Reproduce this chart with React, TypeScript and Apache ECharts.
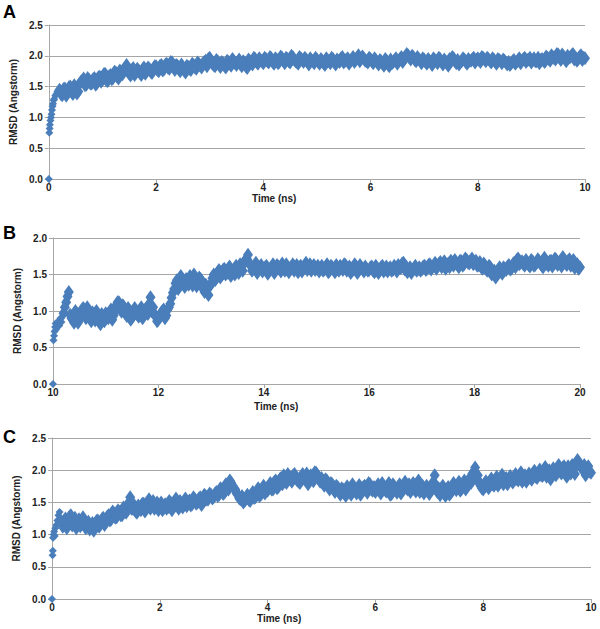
import React, { useEffect, useRef } from "react";
import * as echarts from "echarts";

// ---------- Data (RMSD in Angstrom vs time in ns) ----------
const panelLetters = ["A", "B", "C"];
const yTickMax = [2.5, 2.0, 2.5];
const xRanges = [
  [0, 10],
  [10, 20],
  [0, 10],
];
const sampleStep = 0.05;

// Panel A
const aEarly: [number, number][] = [
  [0, 0], [0.01, 0.75], [0.015, 0.82], [0.02, 0.88], [0.03, 0.95], [0.04, 1.0],
  [0.05, 1.05], [0.06, 1.12], [0.07, 1.18], [0.08, 1.22], [0.09, 1.28], [0.1, 1.3],
  [0.12, 1.35], [0.14, 1.38], [0.16, 1.42], [0.18, 1.4],
];
const aStart = 0.2;
const aVals = [
  1.45, 1.36, 1.47, 1.40, 1.50, 1.38, 1.48, 1.42, 1.58, 1.63, 1.53, 1.61, 1.55, 1.64, 1.56, 1.66,
  1.61, 1.71, 1.59, 1.69, 1.64, 1.73, 1.63, 1.74, 1.78, 1.85, 1.71, 1.77, 1.69, 1.79, 1.72, 1.78, 1.71, 1.81, 1.74, 1.79,
  1.83, 1.75, 1.85, 1.78, 1.87, 1.79, 1.89, 1.77, 1.84, 1.75, 1.81, 1.73, 1.82, 1.77, 1.85, 1.79, 1.87, 1.81, 1.90, 1.83,
  1.97, 1.87, 1.83, 1.91, 1.82, 1.88, 1.81, 1.90, 1.84, 1.92, 1.85, 1.94, 1.83, 1.89, 1.80, 1.91, 1.86, 1.95, 1.87, 1.93,
  1.88, 1.95, 1.89, 1.96, 1.87, 1.94, 1.90, 1.97, 1.88, 1.95, 1.89, 1.98, 1.91, 1.87, 1.96, 1.90, 1.94, 1.86, 1.93, 1.88,
  1.94, 1.87, 1.92, 1.85, 1.93, 1.88, 1.95, 1.86, 1.92, 1.96, 1.89, 1.94, 1.87, 1.95, 1.90, 1.97, 1.91, 1.99, 1.92, 1.89,
  1.95, 1.88, 1.93, 1.86, 1.91, 1.84, 1.92, 1.83, 1.88, 1.93, 1.87, 1.95, 1.90, 1.97, 2.01, 1.94, 1.98, 1.91, 1.95, 1.88,
  1.94, 1.87, 1.92, 1.85, 1.93, 1.88, 1.95, 1.86, 1.91, 1.84, 1.93, 1.96, 1.88, 1.86, 1.91, 1.94, 1.87, 1.92, 1.95, 1.89,
  1.96, 1.90, 1.97, 1.91, 1.95, 1.89, 1.94, 1.87, 1.93, 1.88, 1.92, 1.86, 1.85, 1.91, 1.87, 1.93, 1.88, 1.95, 1.90, 1.94,
  1.89, 1.96, 1.91, 1.88, 1.95, 1.90, 1.97, 1.92, 1.98, 1.94, 2.02, 1.93, 1.99, 1.91, 1.97, 2.01, 1.94, 1.92, 1.99, 1.93, 1.96,
];
// interleaved frames at aStart + 0.025 + i*0.05
const aVals2 = [
  1.38, 1.46, 1.35, 1.49, 1.41, 1.52, 1.39, 1.55, 1.60, 1.52, 1.64, 1.55, 1.62, 1.53, 1.65, 1.58,
  1.70, 1.60, 1.67, 1.62, 1.74, 1.66, 1.76, 1.70, 1.80, 1.76, 1.68, 1.80, 1.73, 1.76, 1.69, 1.81, 1.75, 1.79, 1.72, 1.83,
  1.77, 1.84, 1.76, 1.86, 1.80, 1.90, 1.82, 1.85, 1.78, 1.86, 1.76, 1.84, 1.79, 1.87, 1.81, 1.89, 1.84, 1.88, 1.92, 1.95,
  1.91, 1.85, 1.93, 1.86, 1.90, 1.84, 1.92, 1.87, 1.95, 1.88, 1.90, 1.86, 1.91, 1.83, 1.94, 1.89, 1.97, 1.90, 1.96, 1.91,
  1.97, 1.91, 1.98, 1.90, 1.96, 1.88, 1.99, 1.92, 1.97, 1.91, 2.00, 1.94, 1.90, 1.98, 1.93, 1.97, 1.90, 1.96, 1.91, 1.97,
  1.90, 1.95, 1.88, 1.96, 1.91, 1.97, 1.89, 1.94, 1.90, 1.98, 1.92, 1.96, 1.91, 1.98, 1.93, 2.01, 1.95, 1.96, 1.91, 1.97,
  1.91, 1.96, 1.89, 1.93, 1.87, 1.95, 1.86, 1.94, 1.90, 1.96, 1.92, 1.98, 1.94, 2.03, 1.97, 2.00, 1.93, 1.98, 1.92, 1.96,
  1.90, 1.95, 1.89, 1.96, 1.91, 1.97, 1.90, 1.94, 1.88, 1.95, 1.98, 1.91, 1.93, 1.89, 1.96, 1.90, 1.95, 1.92, 1.97, 1.93,
  1.93, 1.98, 1.94, 1.97, 1.92, 1.96, 1.90, 1.95, 1.91, 1.94, 1.89, 1.90, 1.88, 1.93, 1.90, 1.96, 1.92, 1.97, 1.93, 1.97,
  1.93, 1.91, 1.97, 1.93, 1.92, 1.99, 1.95, 2.01, 1.96, 2.03, 1.97, 2.02, 1.95, 2.00, 1.98, 2.03, 1.97, 1.95, 2.01, 1.97,
];

// Panel B
const bEarly: [number, number][] = [
  [10, 0], [10.01, 0.6], [10.02, 0.66], [10.03, 0.72], [10.04, 0.78], [10.05, 0.83],
  [10.06, 0.75], [10.08, 0.82], [10.1, 0.86], [10.12, 0.8], [10.14, 0.9], [10.16, 0.85],
];
const bStart = 10.2;
const bVals = [
  0.97, 1.12, 1.26, 0.9, 0.84, 0.96, 0.88, 1.02, 0.93, 1.05, 0.92, 0.98, 0.87, 0.95, 0.82, 0.91,
  0.97, 0.9, 1.02, 0.94, 1.08, 1.12, 0.99, 1.05, 0.93, 1.01, 0.91, 1.04, 0.95, 0.99, 0.9, 1.02, 0.96, 1.19, 1.05, 0.92,
  0.88, 0.97, 1.02, 0.94, 1.05, 1.18, 1.3, 1.42, 1.36, 1.45, 1.33, 1.4, 1.48, 1.35, 1.43, 1.38, 1.44, 1.3, 1.36, 1.22,
  1.38, 1.5, 1.45, 1.56, 1.49, 1.58, 1.52, 1.61, 1.55, 1.5, 1.59, 1.64, 1.55, 1.7, 1.77, 1.62, 1.58, 1.66, 1.56, 1.63,
  1.57, 1.62, 1.54, 1.6, 1.52, 1.63, 1.58, 1.65, 1.55, 1.61, 1.57, 1.64, 1.59, 1.53, 1.62, 1.58, 1.66, 1.6, 1.55, 1.63,
  1.59, 1.54, 1.62, 1.57, 1.64, 1.55, 1.6, 1.53, 1.58, 1.62, 1.56, 1.63, 1.59, 1.52, 1.57, 1.61, 1.55, 1.6, 1.54, 1.58,
  1.56, 1.61, 1.53, 1.59, 1.55, 1.62, 1.57, 1.54, 1.6, 1.56, 1.58, 1.63, 1.59, 1.66, 1.61, 1.56, 1.52, 1.58, 1.55, 1.6,
  1.57, 1.62, 1.58, 1.64, 1.6, 1.66, 1.61, 1.67, 1.63, 1.58, 1.65, 1.69, 1.62, 1.66, 1.6, 1.68, 1.64, 1.7, 1.65, 1.72,
  1.66, 1.62, 1.67, 1.58, 1.62, 1.55, 1.6, 1.52, 1.46, 1.57, 1.54, 1.6, 1.56, 1.63, 1.58, 1.66, 1.7, 1.64, 1.68, 1.62,
  1.66, 1.61, 1.68, 1.63, 1.71, 1.65, 1.6, 1.67, 1.62, 1.69, 1.64, 1.7, 1.66, 1.61, 1.68, 1.63, 1.71, 1.66, 1.59, 1.64, 1.6,
];
const bVals2 = [
  1.05, 1.20, 0.95, 0.88, 1.00, 0.84, 0.97, 1.04, 0.90, 1.00, 0.86, 0.94, 1.00, 0.88, 0.96, 0.86,
  0.94, 0.99, 0.88, 1.00, 1.12, 1.03, 1.08, 0.97, 1.04, 0.88, 0.98, 1.00, 0.92, 1.05, 0.94, 0.98, 1.10, 1.00, 0.96, 0.86,
  0.93, 1.00, 0.90, 1.02, 1.10, 1.25, 1.38, 1.30, 1.48, 1.38, 1.44, 1.36, 1.42, 1.50, 1.34, 1.46, 1.36, 1.26, 1.30, 1.34,
  1.45, 1.42, 1.53, 1.46, 1.56, 1.50, 1.58, 1.48, 1.55, 1.62, 1.52, 1.60, 1.66, 1.72, 1.66, 1.55, 1.62, 1.52, 1.60, 1.54,
  1.60, 1.51, 1.58, 1.64, 1.57, 1.61, 1.54, 1.59, 1.64, 1.53, 1.60, 1.55, 1.63, 1.60, 1.54, 1.62, 1.56, 1.64, 1.59, 1.56,
  1.62, 1.58, 1.55, 1.61, 1.53, 1.62, 1.57, 1.63, 1.55, 1.59, 1.64, 1.55, 1.61, 1.56, 1.64, 1.52, 1.63, 1.57, 1.61, 1.55,
  1.60, 1.55, 1.62, 1.52, 1.60, 1.54, 1.61, 1.58, 1.55, 1.62, 1.54, 1.60, 1.65, 1.57, 1.53, 1.60, 1.56, 1.62, 1.57, 1.55,
  1.61, 1.56, 1.63, 1.57, 1.62, 1.58, 1.65, 1.60, 1.68, 1.63, 1.60, 1.66, 1.70, 1.63, 1.69, 1.62, 1.72, 1.66, 1.69, 1.64,
  1.69, 1.63, 1.60, 1.65, 1.56, 1.62, 1.50, 1.55, 1.52, 1.60, 1.51, 1.58, 1.61, 1.57, 1.64, 1.60, 1.72, 1.66, 1.64, 1.70,
  1.63, 1.70, 1.62, 1.66, 1.68, 1.62, 1.73, 1.64, 1.68, 1.61, 1.72, 1.63, 1.68, 1.74, 1.65, 1.69, 1.62, 1.70, 1.64, 1.58,
];

// Panel C
const cEarly: [number, number][] = [
  [0, 0], [0.01, 0.68], [0.015, 0.75], [0.02, 0.95], [0.03, 1.0], [0.04, 1.05], [0.05, 0.98],
  [0.06, 1.1], [0.08, 1.15], [0.1, 1.22], [0.12, 1.3], [0.14, 1.35], [0.16, 1.25], [0.18, 1.18],
];
const cStart = 0.2;
const cVals = [
  1.12, 1.25, 1.15, 1.3, 1.2, 1.1, 1.24, 1.16, 1.22, 1.12, 1.08, 1.18, 1.13, 1.22, 1.17, 1.26,
  1.2, 1.3, 1.24, 1.33, 1.27, 1.35, 1.3, 1.38, 1.43, 1.58, 1.4, 1.36, 1.45, 1.38, 1.48, 1.42, 1.55, 1.46, 1.4, 1.5,
  1.44, 1.38, 1.47, 1.42, 1.5, 1.45, 1.56, 1.4, 1.48, 1.52, 1.44, 1.53, 1.47, 1.55, 1.5, 1.58, 1.52, 1.6, 1.55, 1.62,
  1.58, 1.66, 1.62, 1.7, 1.65, 1.74, 1.84, 1.76, 1.7, 1.62, 1.55, 1.5, 1.58, 1.54, 1.62, 1.57, 1.66, 1.6, 1.7, 1.64,
  1.68, 1.80, 1.70, 1.84, 1.74, 1.88, 1.92, 1.80, 1.90, 1.82, 1.94, 1.84, 1.80, 1.94, 1.85, 1.78, 1.92, 1.83, 1.96, 1.86,
  1.88, 1.76, 1.84, 1.70, 1.78, 1.66, 1.74, 1.62, 1.70, 1.60, 1.70, 1.62, 1.74, 1.64, 1.77, 1.67, 1.76, 1.65, 1.78, 1.68,
  1.66, 1.78, 1.64, 1.76, 1.67, 1.80, 1.63, 1.75, 1.65, 1.78, 1.68, 1.82, 1.70, 1.66, 1.80, 1.67, 1.84, 1.72, 1.64, 1.76,
  1.63, 1.77, 1.92, 1.66, 1.61, 1.76, 1.60, 1.74, 1.65, 1.80, 1.69, 1.82, 1.71, 1.84, 1.75, 1.88, 1.95, 2.04, 1.92, 1.76,
  1.70, 1.83, 1.72, 1.87, 1.76, 1.90, 1.80, 1.93, 1.83, 1.78, 1.91, 1.81, 1.94, 1.84, 1.97, 1.87, 1.82, 1.95, 1.85, 1.99,
  1.88, 2.01, 1.91, 2.05, 1.93, 1.86, 2.03, 1.92, 2.08, 1.95, 2.06, 1.90, 2.02, 2.08, 1.94, 2.16, 2.06, 2.00, 1.92, 2.06, 1.96,
];
const cVals2 = [
  1.22, 1.10, 1.28, 1.14, 1.26, 1.18, 1.13, 1.27, 1.10, 1.20, 1.15, 1.06, 1.21, 1.12, 1.24, 1.15,
  1.28, 1.22, 1.36, 1.26, 1.38, 1.30, 1.42, 1.34, 1.50, 1.40, 1.46, 1.34, 1.42, 1.48, 1.36, 1.50, 1.40, 1.52, 1.44, 1.38,
  1.50, 1.42, 1.40, 1.52, 1.38, 1.50, 1.46, 1.52, 1.42, 1.56, 1.50, 1.45, 1.58, 1.48, 1.56, 1.46, 1.62, 1.54, 1.64, 1.56,
  1.64, 1.60, 1.72, 1.63, 1.78, 1.70, 1.80, 1.72, 1.64, 1.56, 1.60, 1.52, 1.62, 1.52, 1.66, 1.58, 1.72, 1.62, 1.76, 1.68,
  1.76, 1.70, 1.82, 1.72, 1.86, 1.78, 1.84, 1.94, 1.86, 1.92, 1.88, 1.82, 1.90, 1.88, 1.95, 1.84, 1.87, 1.97, 1.90, 1.82,
  1.80, 1.86, 1.74, 1.80, 1.70, 1.76, 1.66, 1.72, 1.64, 1.75, 1.66, 1.78, 1.68, 1.72, 1.62, 1.74, 1.70, 1.80, 1.70, 1.74,
  1.72, 1.68, 1.80, 1.70, 1.74, 1.62, 1.78, 1.70, 1.74, 1.64, 1.76, 1.72, 1.78, 1.74, 1.70, 1.79, 1.66, 1.76, 1.70, 1.68,
  1.70, 1.82, 1.76, 1.72, 1.68, 1.64, 1.70, 1.62, 1.76, 1.72, 1.76, 1.68, 1.78, 1.70, 1.82, 1.80, 1.98, 1.86, 1.82, 1.72,
  1.78, 1.76, 1.82, 1.78, 1.84, 1.76, 1.88, 1.78, 1.88, 1.86, 1.84, 1.90, 1.86, 1.90, 1.82, 1.92, 1.90, 1.88, 1.92, 1.90,
  1.95, 1.92, 1.98, 1.90, 2.00, 1.96, 1.97, 2.02, 1.99, 2.04, 1.96, 2.06, 1.95, 2.02, 2.10, 2.12, 2.04, 2.08, 2.02, 1.98,
];

const EARLY_SIZE = 8;
const BULK_SIZE: [number, number] = [10, 14];

function buildSeries(early: [number, number][], start: number, vals: number[], vals2: number[]) {
  const pts: any[] = early.map((p) => ({ value: [p[0], p[1]], symbolSize: EARLY_SIZE }));
  vals.forEach((v, i) => pts.push([+(start + i * sampleStep).toFixed(3), v]));
  vals2.forEach((v, i) => pts.push([+(start + sampleStep / 2 + i * sampleStep).toFixed(3), v]));
  return pts;
}

const FONT = "'Liberation Sans', Arial, sans-serif";
const GRID_COLOR = "#a6a6a6";
const MARK_COLOR = "#4a7ebb";

export default function App() {
  const ref = useRef<HTMLDivElement>(null);
  useEffect(() => {
    if (!ref.current) return;
    const chart = echarts.init(ref.current, undefined, { renderer: "svg" });
    const grids = [
      { left: 47, right: 15, top: 25, height: 154 },
      { left: 53, right: 20, top: 238, height: 146 },
      { left: 52, right: 9, top: 438, height: 161 },
    ];
    const datasets = [
      buildSeries(aEarly, aStart, aVals, aVals2),
      buildSeries(bEarly, bStart, bVals, bVals2),
      buildSeries(cEarly, cStart, cVals, cVals2),
    ];
    const axisLabelStyle = { fontFamily: FONT, fontWeight: "bold" as const, fontSize: 10, color: "#222" };
    const option: any = {
      animation: false,
      backgroundColor: "#fff",
      grid: grids.map((g) => ({ ...g, containLabel: false })),
      xAxis: grids.map((_, i) => ({
        type: "value",
        gridIndex: i,
        min: xRanges[i][0],
        max: xRanges[i][1],
        interval: 2,
        axisLine: { show: true, onZero: false, lineStyle: { color: GRID_COLOR, width: 1 } },
        axisTick: { show: true, length: 4, lineStyle: { color: GRID_COLOR } },
        splitLine: { show: false },
        axisLabel: { ...axisLabelStyle, margin: 3 },
      })),
      yAxis: grids.map((_, i) => ({
        type: "value",
        gridIndex: i,
        min: 0,
        max: yTickMax[i],
        interval: 0.5,
        name: "RMSD (Angstorm)",
        nameLocation: "middle",
        nameGap: [24, 26, 26][i],
        nameTextStyle: { fontFamily: FONT, fontWeight: "bold", fontSize: 10, color: "#222" },
        axisLine: { show: true, lineStyle: { color: GRID_COLOR, width: 1 } },
        axisTick: { show: true, length: 4, lineStyle: { color: GRID_COLOR } },
        splitLine: { show: true, lineStyle: { color: GRID_COLOR, width: 1 } },
        axisLabel: { ...axisLabelStyle, margin: 6, formatter: (v: number) => v.toFixed(1) },
      })),
      series: datasets.map((d, i) => ({
        type: "scatter",
        xAxisIndex: i,
        yAxisIndex: i,
        data: d,
        symbol: "diamond",
        symbolSize: BULK_SIZE,
        itemStyle: { color: MARK_COLOR, opacity: 1 },
        silent: true,
      })),
      graphic: [
        ...panelLetters.map((t, i) => ({
          type: "text",
          left: 3,
          top: [3, 224, 428][i],
          style: { text: t, font: `bold 18px ${FONT}`, fill: "#000" },
        })),
        ...[197, 405, 617].map((y, i) => ({
          type: "text",
          left: [252, 254, 257][i],
          top: y - 4,
          style: { text: "Time (ns)", font: `bold 10px ${FONT}`, fill: "#222" },
        })),
      ],
    };
    chart.setOption(option);
    return () => chart.dispose();
  }, []);
  return (
    <div
      ref={ref}
      style={{ position: "absolute", left: 0, top: 0, width: 600, height: 629, background: "#fff" }}
    />
  );
}
